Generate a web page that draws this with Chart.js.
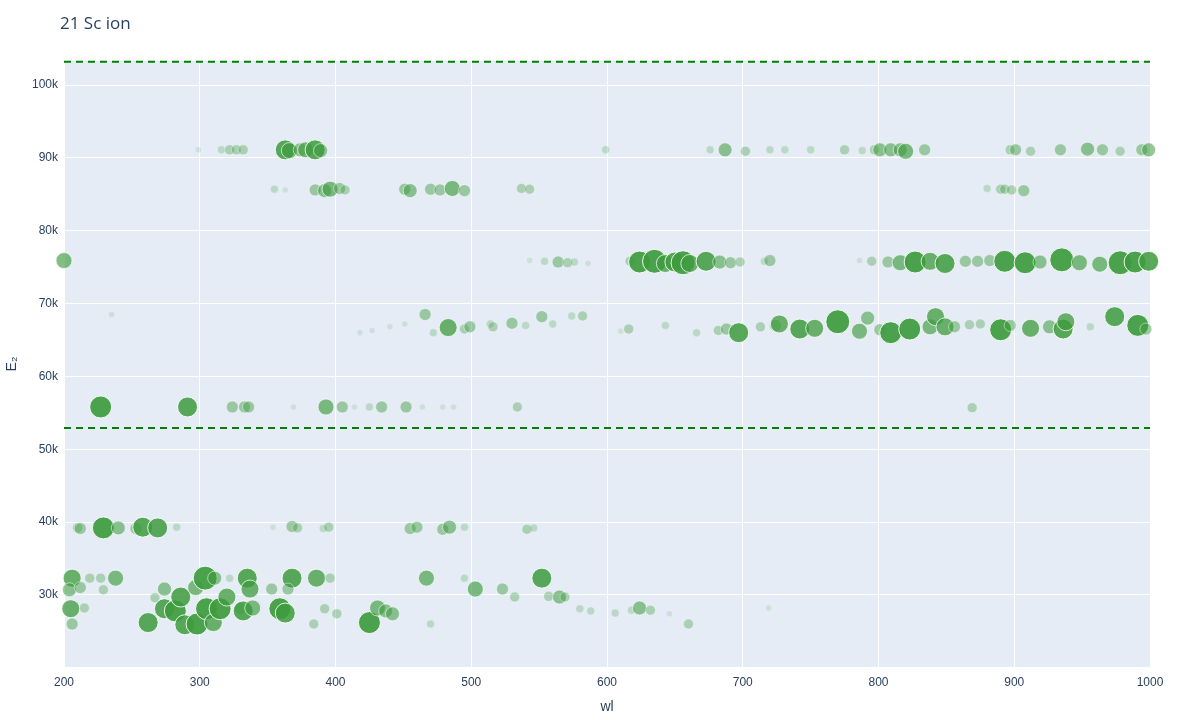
<!DOCTYPE html>
<html>
<head>
<meta charset="utf-8">
<script src="https://cdn.jsdelivr.net/npm/chart.js@4"></script>
<style>
  body { margin: 0; background: #fff; }
  #wrap { width: 1200px; height: 720px; }
</style>
</head>
<body>
<div id="wrap"><canvas id="chart"></canvas></div>
<script>
// wavelength (nm), upper level energy (k cm-1), line strength (1..10)
const wl91 = [299,316,322,327,332,363,366,374,378,385,389,599,676,687,702,720,731,750,775,788,797,801,809,816,820,834,897,901,912,934,954,965,978,994,999]
const e91 = [91.1,91.1,91.1,91.1,91.1,91.1,91.0,91.1,91.1,91.1,91.0,91.1,91.1,91.1,90.9,91.1,91.1,91.1,91.1,91.0,91.1,91.1,91.1,91.1,90.9,91.1,91.1,91.1,90.9,91.1,91.2,91.1,90.9,91.1,91.1]
const s91 = [1,2,3,3,3,8,6,5,6,8,5,2,2,5,3,2,2,2,3,2,3,5,5,5,6,4,3,4,3,4,5,4,3,4,5]

const wl86 = [355,363,385,392,396,403,407,451,455,470,477,486,495,537,543,880,890,893,898,907]
const e86 = [85.7,85.6,85.6,85.5,85.7,85.8,85.6,85.7,85.5,85.7,85.6,85.8,85.5,85.8,85.7,85.8,85.7,85.7,85.6,85.5]
const s86 = [2,1,4,5,6,4,3,4,5,4,4,6,4,3,3,2,3,3,3,4]

const wl76 = [200,543,554,564,571,576,586,617,624,635,643,650,656,661,673,683,691,698,716,720,786,795,807,816,827,838,849,864,873,882,893,908,919,935,948,963,978,989,999]
const e76 = [75.9,75.9,75.8,75.7,75.6,75.7,75.5,75.8,75.7,75.8,75.5,75.7,75.6,75.5,75.8,75.7,75.6,75.7,75.8,75.9,75.9,75.8,75.7,75.6,75.7,75.8,75.5,75.8,75.8,75.9,75.8,75.6,75.7,76.0,75.6,75.4,75.6,75.7,75.8]
const s76 = [6,1,2,4,3,2,1,3,9,10,7,8,10,7,8,5,4,3,2,4,1,3,4,6,9,7,8,4,4,4,9,9,5,10,6,6,10,9,8]

const wl67 = [235,418,427,440,451,466,472,483,495,499,514,516,530,540,552,560,574,582,610,616,643,666,682,688,697,713,724,727,742,753,770,786,792,801,809,823,838,842,849,856,867,875,890,897,912,926,936,938,956,974,991,997]
const e67 = [68.5,66.0,66.3,66.8,67.2,68.5,66.0,66.7,66.5,66.8,67.2,66.8,67.3,67.0,68.2,67.2,68.3,68.3,66.2,66.5,67.0,66.0,66.3,66.5,66.0,66.8,67.0,67.2,66.5,66.6,67.5,66.2,68.0,66.4,66.0,66.5,66.8,68.2,66.8,66.8,67.1,67.2,66.4,67.0,66.6,66.8,66.5,67.5,66.8,68.2,67.0,66.5]
const s67 = [1,1,1,1,1,4,2,7,3,4,2,3,4,2,4,2,2,3,1,3,2,2,3,4,8,3,4,7,8,7,10,6,5,4,9,9,6,7,7,4,3,3,9,4,7,5,8,7,2,8,9,4]

const wl56 = [227,291,324,333,336,369,393,405,414,425,434,452,464,479,487,534,869]
const e56 = [55.8,55.8,55.8,55.8,55.8,55.8,55.8,55.8,55.8,55.8,55.8,55.8,55.8,55.8,55.8,55.8,55.7]
const s56 = [9,8,4,4,4,1,6,4,1,2,4,4,1,1,1,3,3]

const wl39 = [210,212,229,240,253,258,269,283,354,368,372,391,395,455,460,479,484,495,541,546]
const e39 = [39.2,39.1,39.2,39.2,39.1,39.3,39.2,39.3,39.3,39.4,39.2,39.1,39.3,39.1,39.3,39.0,39.3,39.3,39.0,39.2]
const s39 = [3,4,9,5,4,8,8,2,1,4,3,2,3,4,4,4,5,2,3,2]

const wlLow = [206,204,205,206,212,215,219,227,238,229,262,267,274,274,282,286,289,297,298,304,305,311,310,315,320,322,330,335,332,337,339,353,359,363,368,365,386,384,396,392,401,425,431,437,442,467,470,495,503,523,532,552,557,565,569,580,588,606,618,624,632,646,660,719]
const eLow = [32.3,30.7,28.1,26.0,31.0,28.2,32.3,32.3,32.3,30.7,26.2,29.6,30.8,28.1,27.8,29.7,25.9,31.0,26.0,32.3,28.1,32.3,26.2,28.1,29.7,32.3,28.1,32.3,27.8,30.8,28.2,30.8,28.1,27.5,32.3,30.8,32.3,26.0,32.3,28.1,27.4,26.2,28.2,27.8,27.4,32.3,26.0,32.3,30.8,30.8,29.7,32.3,29.8,29.7,29.7,28.1,27.8,27.5,27.9,28.2,27.9,27.4,26.0,28.2]
const sLow = [7,5,7,4,4,3,3,3,6,3,8,3,5,8,9,8,8,6,9,10,9,5,7,9,7,2,4,8,8,7,6,4,9,8,8,4,7,3,3,3,3,9,6,5,5,6,2,2,6,4,3,8,3,5,3,2,2,2,2,5,3,1,3,1]

// dashed limits (k cm-1)
const limits = [103.2, 52.9]

const allWl = [].concat(wl91, wl86, wl76, wl67, wl56, wl39, wlLow)
const allE = [].concat(e91, e86, e76, e67, e56, e39, eLow)
const allS = [].concat(s91, s86, s76, s67, s56, s39, sLow)

const points = allWl.map((x, i) => ({ x: x, y: allE[i] * 1000, s: allS[i] }))
const alphaOf = s => Math.min(0.92, 0.05 + 0.1 * s)

const limitSets = limits.map(v => ({
  type: 'line',
  data: [{ x: 200, y: v * 1000 }, { x: 1000, y: v * 1000 }],
  borderColor: 'rgb(0,128,0)',
  borderWidth: 2,
  borderDash: [7, 5],
  pointRadius: 0,
  clip: 4
}))

const titlePlugin = {
  id: 'titleText',
  afterDraw(chart) {
    const c = chart.ctx
    c.save()
    c.fillStyle = '#2a3f5f'
    c.font = '17px "Open Sans", sans-serif'
    c.textBaseline = 'middle'
    c.fillText('21 Sc ion', 60, 24)
    c.restore()
  }
}

const bgPlugin = {
  id: 'plotBg',
  beforeDraw(chart) {
    const a = chart.chartArea
    chart.ctx.fillStyle = '#e5ecf6'
    chart.ctx.fillRect(a.left, a.top, a.right - a.left, a.bottom - a.top)
  }
}

new Chart(document.getElementById('chart'), {
  type: 'scatter',
  data: {
    datasets: [{
      data: points,
      pointRadius: ctx => 2 + (ctx.raw ? ctx.raw.s : 0),
      backgroundColor: ctx => 'rgba(61,155,61,' + alphaOf(ctx.raw ? ctx.raw.s : 1) + ')',
      borderColor: ctx => 'rgba(255,255,255,' + alphaOf(ctx.raw ? ctx.raw.s : 1) + ')',
      borderWidth: 1,
      clip: 12
    }].concat(limitSets)
  },
  options: {
    responsive: true,
    maintainAspectRatio: false,
    animation: false,
    layout: { padding: { top: 61, right: 50, left: 0, bottom: 0 } },
    plugins: { legend: { display: false }, tooltip: { enabled: false } },
    scales: {
      x: {
        min: 200, max: 1000,
        grid: { color: '#fff', lineWidth: 1, drawTicks: false },
        border: { display: false },
        ticks: { stepSize: 100, color: '#2a3f5f', font: { size: 12 }, padding: 8, callback: v => String(v) },
        title: { display: true, text: 'wl', color: '#2a3f5f', font: { size: 14 }, padding: { top: 4 } },
        afterFit(axis) { axis.height = 53 }
      },
      y: {
        min: 20100, max: 103300,
        afterBuildTicks(axis) {
          axis.ticks = [30, 40, 50, 60, 70, 80, 90, 100].map(v => ({ value: v * 1000 }))
        },
        grid: { color: '#fff', lineWidth: 1, drawTicks: false },
        border: { display: false },
        ticks: { color: '#2a3f5f', font: { size: 12 }, padding: 6, callback: v => (v / 1000) + 'k' },
        title: { display: true, text: 'E₂', color: '#2a3f5f', font: { size: 14 } },
        afterFit(axis) { axis.width = 64 }
      }
    }
  },
  plugins: [bgPlugin, titlePlugin]
})
</script>
</body>
</html>
